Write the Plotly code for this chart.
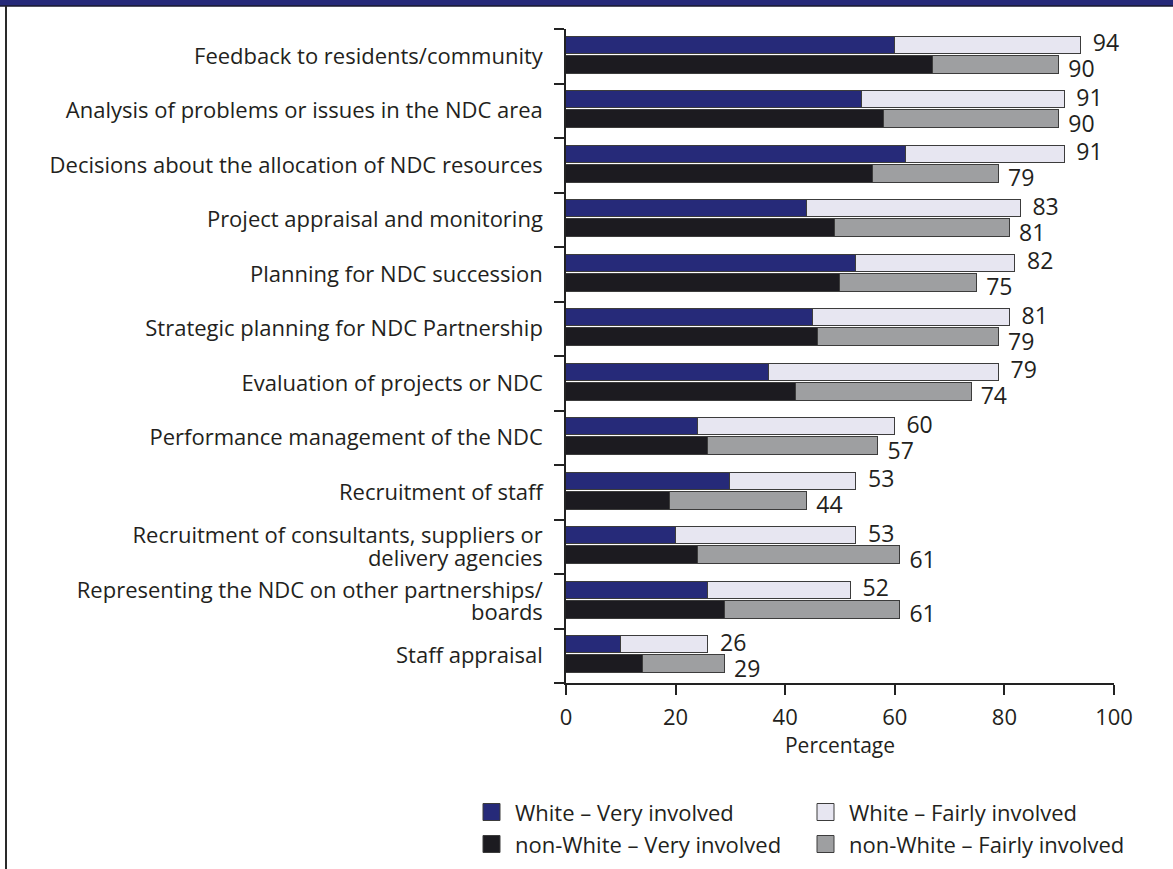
import plotly.graph_objects as go

categories = [
    "Feedback to residents/community",
    "Analysis of problems or issues in the NDC area",
    "Decisions about the allocation of NDC resources",
    "Project appraisal and monitoring",
    "Planning for NDC succession",
    "Strategic planning for NDC Partnership",
    "Evaluation of projects or NDC",
    "Performance management of the NDC",
    "Recruitment of staff",
    "Recruitment of consultants, suppliers or<br>delivery agencies",
    "Representing the NDC on other partnerships/<br>boards",
    "Staff appraisal",
]
white_very = [60, 54, 62, 44, 53, 45, 37, 24, 30, 20, 26, 10]
white_fairly = [34, 37, 29, 39, 29, 36, 42, 36, 23, 33, 26, 16]
nonwhite_very = [67, 58, 56, 49, 50, 46, 42, 26, 19, 24, 29, 14]
nonwhite_fairly = [23, 32, 23, 32, 25, 33, 32, 31, 25, 37, 32, 15]
x_ticks = [0, 20, 40, 60, 80, 100]
legend_labels = ["White – Very involved", "White – Fairly involved",
                 "non-White – Very involved", "non-White – Fairly involved"]

C_WV = "#262a79"
C_WF = "#e7e6f1"
C_NV = "#1c1b20"
C_NF = "#9e9fa1"
OUTLINE = "#3c3c3c"
FONT = "Open Sans"
TXT = "#231f20"

W, H = 1173, 869
L, R, T, B = 566, W - 1114, 29, H - 683

n = len(categories)
y_white = [n - k - 0.30 for k in range(n)]
y_non = [n - k - 0.66 for k in range(n)]
white_total = [a + b for a, b in zip(white_very, white_fairly)]
non_total = [a + b for a, b in zip(nonwhite_very, nonwhite_fairly)]

# category labels: one tick per text line, lines spaced ~23 px apart
tick_vals, tick_text = [], []
LINE_STEP = 0.42
for k, cat in enumerate(categories):
    lines = cat.split("<br>")
    c = n - k - 0.5
    m = len(lines)
    for j, line in enumerate(lines):
        tick_vals.append(c + ((m - 1) / 2 - j) * LINE_STEP)
        tick_text.append(line)

fig = go.Figure()
def bar(x, y, color, width, name):
    fig.add_trace(go.Bar(x=x, y=y, orientation="h", width=width, name=name,
                         marker=dict(color=color, line=dict(color=OUTLINE, width=1)),
                         showlegend=False, hoverinfo="x+name"))

bar(white_very, y_white, C_WV, 0.31, legend_labels[0])
bar(white_fairly, y_white, C_WF, 0.31, legend_labels[1])
bar(nonwhite_very, y_non, C_NV, 0.33, legend_labels[2])
bar(nonwhite_fairly, y_non, C_NF, 0.33, legend_labels[3])

fig.add_trace(go.Scatter(x=white_total, y=y_white, mode="markers+text", cliponaxis=False,
                         text=[str(v) for v in white_total], textposition="middle right",
                         marker=dict(size=17, opacity=0), textfont=dict(family=FONT, size=23, color=TXT),
                         showlegend=False, hoverinfo="skip"))
fig.add_trace(go.Scatter(x=non_total, y=[v - 0.12 for v in y_non], mode="markers+text", cliponaxis=False,
                         text=[str(v) for v in non_total], textposition="middle right",
                         marker=dict(size=13, opacity=0), textfont=dict(family=FONT, size=23, color=TXT),
                         showlegend=False, hoverinfo="skip"))

def px_x(px):
    return (px - L) / (W - L - R)
def px_y(py):
    return (H - B - py) / (H - T - B)

shapes = []
# header band and left border
shapes.append(dict(type="rect", xref="paper", yref="paper", x0=px_x(-2), x1=px_x(W + 2), y0=px_y(6), y1=px_y(-2),
                   fillcolor="#262a79", line=dict(width=0), layer="above"))
shapes.append(dict(type="line", xref="paper", yref="paper", x0=px_x(-2), x1=px_x(W + 2), y0=px_y(6), y1=px_y(6),
                   line=dict(color="#1a1a2e", width=1.5)))
shapes.append(dict(type="line", xref="paper", yref="paper", x0=px_x(6), x1=px_x(6), y0=px_y(6), y1=px_y(H + 2),
                   line=dict(color="#2a2a2a", width=2)))

annotations = []
leg_pos = [(483, 812), (817, 812), (483, 844), (817, 844)]
leg_cols = [C_WV, C_WF, C_NV, C_NF]
for (lx, ly), col, lab in zip(leg_pos, leg_cols, legend_labels):
    shapes.append(dict(type="rect", xref="paper", yref="paper", x0=px_x(lx), x1=px_x(lx + 17),
                       y0=px_y(ly + 8.5), y1=px_y(ly - 8.5), fillcolor=col,
                       line=dict(color=OUTLINE, width=1)))
    annotations.append(dict(xref="paper", yref="paper", x=px_x(lx + 30), y=px_y(ly), text=lab,
                            showarrow=False, xanchor="left", yanchor="middle",
                            font=dict(family=FONT, size=22, color=TXT)))

fig.update_layout(
    width=W, height=H, margin=dict(l=L, r=R, t=T, b=B, pad=0),
    barmode="stack", bargap=0, plot_bgcolor="white", paper_bgcolor="white",
    shapes=shapes, annotations=annotations, showlegend=False,
    font=dict(family=FONT, color=TXT),
    xaxis=dict(range=[0, 100], tickvals=x_ticks, ticks="outside", ticklen=10, tickwidth=1.5,
               tickcolor="#222", showline=True, linecolor="#222", linewidth=1.5, showgrid=False,
               zeroline=False, tickfont=dict(family=FONT, size=22, color=TXT), ticklabelstandoff=4,
               title=dict(text="Percentage", font=dict(family=FONT, size=21, color=TXT), standoff=8)),
    yaxis=dict(range=[0, n], tickvals=tick_vals, ticktext=tick_text, ticks="outside", ticklen=10,
               tickcolor="rgba(0,0,0,0)", showline=True, linecolor="#222", linewidth=1.5,
               showgrid=False, zeroline=False, ticklabelstandoff=7,
               tickfont=dict(family=FONT, size=22, color=TXT),
               minor=dict(tickvals=list(range(0, n + 1)), ticks="outside", ticklen=10,
                          tickcolor="#222", tickwidth=1.5, showgrid=False)),
)

fig.write_html("out.html", config={"displayModeBar": False},
               post_script="document.body.style.margin='0';document.body.style.overflow='hidden';")
